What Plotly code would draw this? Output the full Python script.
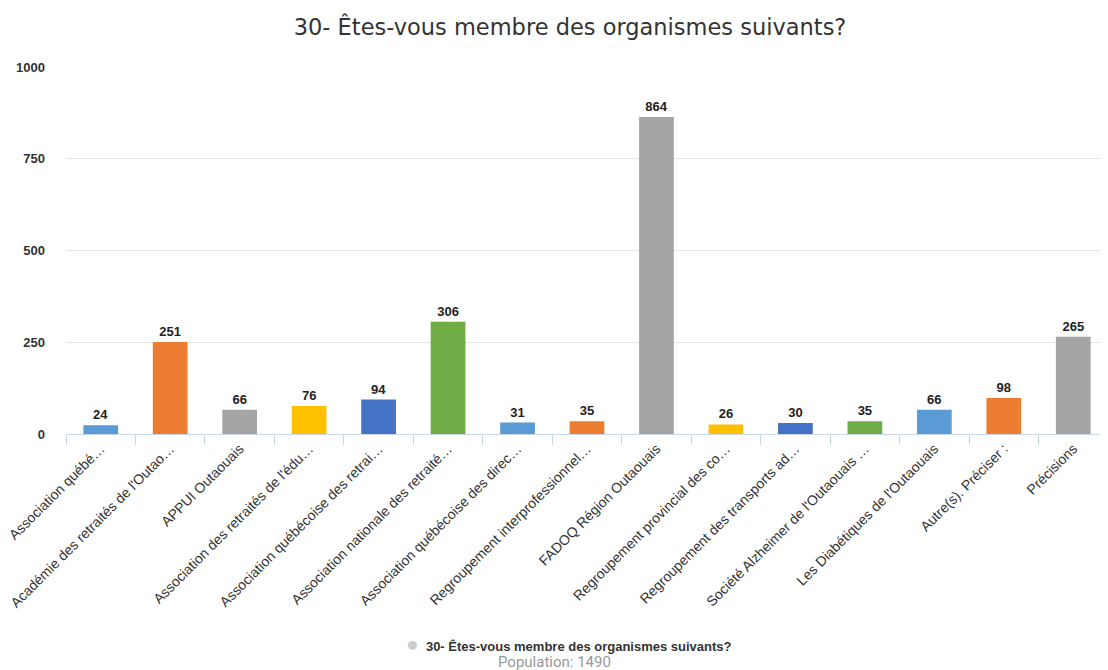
import plotly.graph_objects as go

categories = [
    "Association québé…",
    "Académie des retraités de l'Outao…",
    "APPUI Outaouais",
    "Association des retraités de l'édu…",
    "Association québécoise des retrai…",
    "Association nationale des retraité…",
    "Association québécoise des direc…",
    "Regroupement interprofessionnel…",
    "FADOQ Région Outaouais",
    "Regroupement provincial des co…",
    "Regroupement des transports ad…",
    "Société Alzheimer de l'Outaouais …",
    "Les Diabétiques de l'Outaouais",
    "Autre(s). Préciser :",
    "Précisions",
]
values = [24, 251, 66, 76, 94, 306, 31, 35, 864, 26, 30, 35, 66, 98, 265]
palette = ["#5B9BD5", "#ED7D31", "#A5A5A5", "#FFC000", "#4472C4", "#70AD47"]
colors = [palette[i % len(palette)] for i in range(len(values))]

title = "30- Êtes-vous membre des organismes suivants?"
legend_label = "30- Êtes-vous membre des organismes suivants?"
population = "Population: 1490"

font = "Liberation Sans, Arial, sans-serif"

W, H = 1100, 662  # page body has an 8px default margin
L, T, B = 58, 59, 236
plot_w = W - L
plot_h = H - T - B
axis_y = H - B

fig = go.Figure(
    go.Bar(
        x=categories,
        y=values,
        marker=dict(color=colors, line=dict(width=0)),
        text=values,
        textposition="outside",
        cliponaxis=False,
        textfont=dict(family=font, size=13, color="#222222", weight=600),
        showlegend=False,
    )
)

fig.update_layout(
    width=W,
    height=H,
    margin=dict(l=L, r=0, t=T, b=B, autoexpand=False),
    paper_bgcolor="white",
    plot_bgcolor="white",
    bargap=0.5,
    title=dict(
        text=title,
        x=(562 - L) / plot_w,
        xanchor="center",
        xref="paper",
        y=1 - 19 / H,
        yanchor="middle",
        font=dict(family="DejaVu Sans, sans-serif", size=22.5, color="#333333"),
    ),
    font=dict(family=font, size=13, color="#333333"),
)

fig.update_yaxes(
    range=[0, 1000],
    tickvals=[0, 250, 500, 750, 1000],
    showgrid=True,
    gridcolor="#e6e6e6",
    gridwidth=1,
    zeroline=False,
    showline=False,
    ticks="",
    automargin=False,
    ticklabelstandoff=20,
    tickfont=dict(family=font, size=13, color="#333333", weight="bold"),
)

fig.update_xaxes(
    tickangle=-45,
    showline=True,
    linecolor="#ccd6eb",
    linewidth=1,
    ticks="outside",
    tickson="boundaries",
    ticklen=10,
    tickcolor="#ccd6eb",
    automargin=False,
    tickfont=dict(family=font, size=14, color="#333333"),
    showgrid=False,
)

fig.add_annotation(
    x=(561 - L) / plot_w, y=(axis_y - 635) / plot_h, xref="paper", yref="paper",
    text="<span style='color:#cccccc;font-size:21px'>●</span>  " + legend_label,
    showarrow=False,
    font=dict(family=font, size=13, color="#333333", weight=600),
    xanchor="center", yanchor="middle",
)
fig.add_annotation(
    x=(546.5 - L) / plot_w, y=(axis_y - 654) / plot_h, xref="paper", yref="paper",
    text=population,
    showarrow=False,
    font=dict(family="Roboto, sans-serif", size=15, color="#999999"),
    xanchor="center", yanchor="middle",
)

fig.write_html("out.html")
